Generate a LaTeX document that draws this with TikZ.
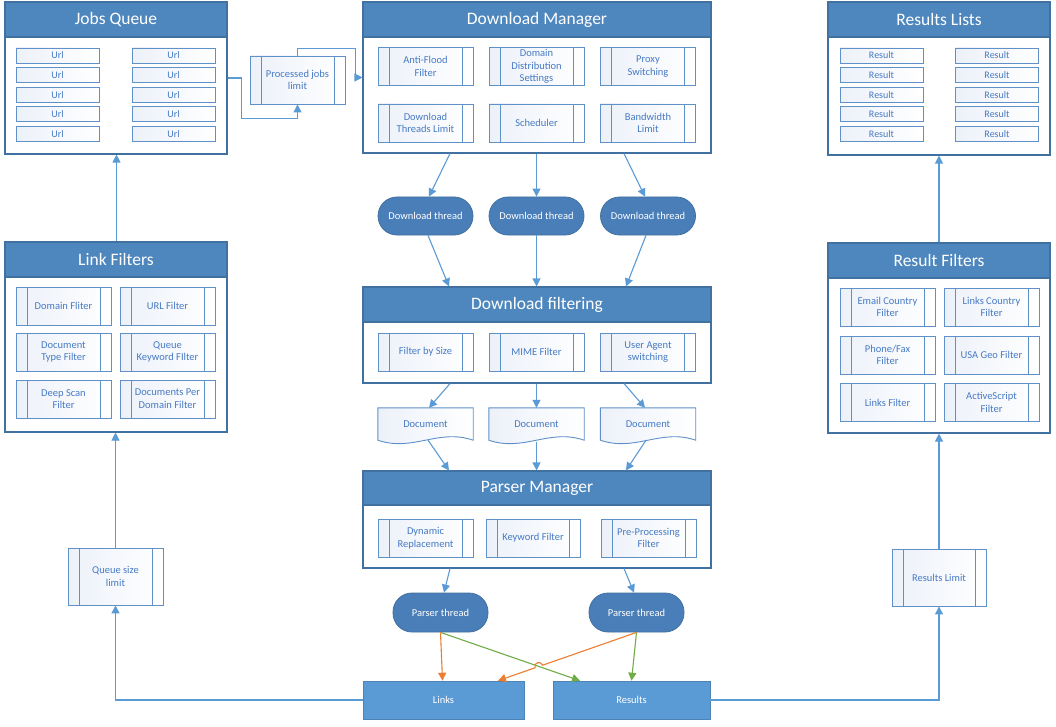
\documentclass[tikz,border=0pt]{standalone}
\usepackage{fontspec}
\setmainfont{Carlito}
\usetikzlibrary{arrows.meta,backgrounds}
\definecolor{hdr}{RGB}{78,135,190}
\definecolor{bord}{RGB}{65,113,160}
\definecolor{connc}{RGB}{91,155,213}
\definecolor{txtb}{RGB}{70,122,196}
\definecolor{ibord}{RGB}{95,145,200}
\definecolor{ifill}{RGB}{236,241,249}
\definecolor{thr}{RGB}{74,126,184}
\definecolor{lnk}{RGB}{91,155,213}
\definecolor{orng}{RGB}{237,125,49}
\definecolor{grn}{RGB}{112,173,71}
\tikzset{
 cont/.style={draw=bord, line width=1.1pt, fill=white, inner sep=0pt},
 hdrbox/.style={draw=bord, line width=1.1pt, fill=hdr, text=white, inner sep=0pt, minimum height=35pt, font=\fontsize{17.5}{20}\selectfont, anchor=north},
 pproc/.style={draw=ibord, line width=0.9pt, left color=ifill, right color=white, inner sep=0pt, text=txtb, minimum width=95pt, minimum height=38pt, align=center, font=\fontsize{10.5}{12.7}\selectfont,
   path picture={\draw[ibord, line width=0.9pt] ([xshift=11pt]path picture bounding box.north west) -- ([xshift=11pt]path picture bounding box.south west);
                 \draw[ibord, line width=0.9pt] ([xshift=-11pt]path picture bounding box.north east) -- ([xshift=-11pt]path picture bounding box.south east);}},
 listitem/.style={draw=ibord, line width=0.9pt, left color=ifill, right color=white, inner sep=0pt, text=txtb, minimum width=83pt, minimum height=15pt, font=\fontsize{10}{12}\selectfont},
 thread/.style={fill=thr, draw=bord, line width=0.8pt, rounded corners=19pt, minimum width=95pt, minimum height=38pt, inner sep=0pt, text=white, font=\fontsize{10.5}{12.7}\selectfont},
 docbox/.style={inner sep=0pt, minimum width=95pt, minimum height=32pt, text=txtb, font=\fontsize{10.5}{12.7}\selectfont},
 docshape/.style={draw=ibord, line width=0.9pt, left color=ifill, right color=white},
 sink/.style={fill=lnk, draw=lnk!85!black, line width=0.6pt, minimum height=38pt, inner sep=0pt, text=white, font=\fontsize{10.5}{12.7}\selectfont},
 conn/.style={draw=connc, line width=1.1pt, -{Triangle[length=8pt,width=8pt]}},
 connor/.style={draw=orng, line width=1.1pt},
 conngr/.style={draw=grn, line width=1.1pt, -{Triangle[length=8pt,width=8pt]}},
}
\newcommand\mydoc[1]{\begin{pgfonlayer}{background}\path[docshape] (#1.north west) -- (#1.north east) -- (#1.south east) .. controls ([xshift=-35pt,yshift=12pt]#1.south east) and ([xshift=35pt,yshift=-12pt]#1.south west) .. (#1.south west) -- cycle;\end{pgfonlayer}}
\begin{document}
\begin{tikzpicture}[x=1pt,y=-1pt]
\useasboundingbox (0,0) rectangle (1056,727);
\begin{pgfonlayer}{background}\fill[white] (0,0) rectangle (1056,727);\end{pgfonlayer}

% ---------- Jobs Queue ----------
\node[cont, minimum width=222pt, minimum height=152pt] (jq) at (116,78) {};
\node[hdrbox, minimum width=222pt] (jqh) at (jq.north) {Jobs Queue};
\foreach \r/\yy in {1/55.5,2/75.1,3/94.7,4/114.3,5/133.9}{
  \node[listitem] (jqa\r) at (57.5,\yy) {Url};
  \node[listitem] (jqb\r) at (173.5,\yy) {Url};
}

% ---------- Processed jobs limit ----------
\node[pproc, minimum height=48pt] (pjl) at (297.5,80) {Processed jobs\\limit};

% ---------- Download Manager ----------
\node[cont, minimum width=348pt, minimum height=151pt] (dm) at (537,77.5) {};
\node[hdrbox, minimum width=348pt] (dmh) at (dm.north) {Download Manager};
\node[pproc] (af) at (425.5,66.5) {Anti-Flood\\Filter};
\node[pproc] (dd) at (536.5,66.5) {Domain\\Distribution\\Settings};
\node[pproc] (ps) at (648,66.5) {Proxy\\Switching};
\node[pproc] (dt) at (425.5,123) {Download\\Threads Limit};
\node[pproc] (sc) at (536.5,123) {Scheduler};
\node[pproc] (bw) at (648,123) {Bandwidth\\Limit};

% ---------- Download threads ----------
\node[thread] (t1) at (425.5,216) {Download thread};
\node[thread] (t2) at (536.5,216) {Download thread};
\node[thread] (t3) at (648,216) {Download thread};

% ---------- Download filtering ----------
\node[cont, minimum width=348pt, minimum height=96pt] (df) at (537,335) {};
\node[hdrbox, minimum width=348pt] (dfh) at (df.north) {Download filtering};
\node[pproc] (fs) at (425.5,352) {Filter by Size};
\node[pproc] (mf) at (536.5,352) {MIME Filter};
\node[pproc] (ua) at (648,352) {User Agent\\switching};

% ---------- Documents ----------
\node[docbox] (d1) at (425.5,424) {Document};
\node[docbox] (d2) at (536.5,424) {Document};
\node[docbox] (d3) at (648,424) {Document};
\mydoc{d1}\mydoc{d2}\mydoc{d3}

% ---------- Parser Manager ----------
\node[cont, minimum width=348pt, minimum height=97pt] (pm) at (537,519.5) {};
\node[hdrbox, minimum width=348pt, minimum height=34pt] (pmh) at (pm.north) {Parser Manager};
\node[pproc] (dr) at (425.5,538) {Dynamic\\Replacement};
\node[pproc, minimum width=94pt] (kf) at (533,538) {Keyword Filter};
\node[pproc] (pp) at (648.5,538) {Pre-Processing\\Filter};

% ---------- Parser threads ----------
\node[thread, minimum height=39pt] (pt1) at (440.5,612.5) {Parser thread};
\node[thread, minimum height=39pt] (pt2) at (636.5,612.5) {Parser thread};

% ---------- Links / Results ----------
\node[sink, minimum width=161pt] (links) at (443.5,700) {Links};
\node[sink, minimum width=157pt] (res) at (631.5,700) {Results};

% ---------- Link Filters ----------
\node[cont, minimum width=222pt, minimum height=190pt] (lf) at (116,337) {};
\node[hdrbox, minimum width=222pt] (lfh) at (lf.north) {Link Filters};
\node[pproc] (lf1) at (63.5,306) {Domain Fliter};
\node[pproc] (lf2) at (167.5,306) {URL Filter};
\node[pproc] (lf3) at (63.5,352) {Document\\Type Filter};
\node[pproc] (lf4) at (167.5,352) {Queue\\Keyword FIlter};
\node[pproc] (lf5) at (63.5,399) {Deep Scan\\Filter};
\node[pproc] (lf6) at (167.5,399) {Documents Per\\Domain Filter};

% ---------- Queue size limit ----------
\node[pproc, minimum height=57pt] (qsl) at (115.5,576.5) {Queue size\\limit};

% ---------- Results Lists ----------
\node[cont, minimum width=222pt, minimum height=153pt] (rls) at (939,78.5) {};
\node[hdrbox, minimum width=222pt] (rlsh) at (rls.north) {Results Lists};
\foreach \r/\yy in {1/55.5,2/75.1,3/94.7,4/114.3,5/133.9}{
  \node[listitem] (rla\r) at (881.5,\yy) {Result};
  \node[listitem] (rlb\r) at (997,\yy) {Result};
}

% ---------- Result Filters ----------
\node[cont, minimum width=222pt, minimum height=190pt] (rf) at (939,338) {};
\node[hdrbox, minimum width=222pt] (rfh) at (rf.north) {Result Filters};
\node[pproc] (rf1) at (887.5,307) {Email Country\\Filter};
\node[pproc] (rf2) at (991.5,307) {Links Country\\Filter};
\node[pproc] (rf3) at (887.5,355) {Phone/Fax\\Filter};
\node[pproc] (rf4) at (991.5,355) {USA Geo Filter};
\node[pproc] (rf5) at (887.5,402.5) {Links Filter};
\node[pproc] (rf6) at (991.5,402.5) {ActiveScript\\Filter};

% ---------- Results Limit ----------
\node[pproc, minimum width=94pt, minimum height=57pt] (rlim) at (939,577.5) {Results Limit};

% ================= connectors =================
% left column
\draw[conn] ([xshift=0.5pt]lf.north) -- ([xshift=0.5pt]jq.south);
\draw[conn] (qsl.north) -- (qsl.north |- lf.south);
\draw[conn] (links.west) -| (qsl.south);
% jobs queue -> processed -> download manager
\draw[conn] (jq.east) -- ([xshift=14pt]jq.east) |- ([yshift=-14pt]pjl.south) -- (pjl.south);
\draw[conn] (pjl.north) -- ++(0,-7) -| ([xshift=-7pt]dm.west) -- (dm.west);
% download manager -> threads
\draw[conn] ([xshift=-87pt]dm.south) -- ([xshift=3.5pt]t1.north);
\draw[conn] (t2.north |- dm.south) -- (t2.north);
\draw[conn] ([xshift=87pt]dm.south) -- ([xshift=-3pt]t3.north);
% threads -> download filtering
\draw[conn] ([xshift=2.5pt]t1.south) -- ([xshift=-88pt]df.north);
\draw[conn] (t2.south) -- (t2.south |- df.north);
\draw[conn] ([xshift=-2pt]t3.south) -- ([xshift=89pt]df.north);
% download filtering -> documents
\draw[conn] ([xshift=-87pt]df.south) -- ([xshift=3.5pt]d1.north);
\draw[conn] (d2.north |- df.south) -- (d2.north);
\draw[conn] ([xshift=87pt]df.south) -- ([xshift=-3pt]d3.north);
% documents -> parser manager
\draw[conn] ([xshift=2.5pt]d1.south) -- ([xshift=-88pt]pm.north);
\draw[conn] ([yshift=-2pt]d2.south) -- (d2.south |- pm.north);
\draw[conn] ([xshift=-2pt]d3.south) -- ([xshift=89pt]pm.north);
% parser manager -> parser threads
\draw[conn] ([xshift=-87pt]pm.south) -- ([xshift=3.5pt]pt1.north);
\draw[conn] ([xshift=87pt]pm.south) -- ([xshift=-2.5pt]pt2.north);
% parser threads -> links / results
\coordinate (hopA) at (542.6,665.2);
\coordinate (hopB) at (535.0,667.8);
\draw[conngr] (pt1.south) -- ([xshift=-51.5pt]res.north);
\draw[conngr] (pt2.south) -- (res.north);
\draw[connor, -{Triangle[length=8pt,width=8pt]}] (pt1.south) -- ([xshift=-1pt]links.north);
\draw[connor, -{Triangle[length=8pt,width=8pt]}] (pt2.south) -- (hopA) .. controls (540.8,660.2) and (533.2,662.8) .. (hopB) -- ([xshift=54.5pt]links.north);
% right column
\draw[conn] (res.east) -| (rlim.south);
\draw[conn] (rlim.north) -- (rlim.north |- rf.south);
\draw[conn] (rf.north) -- (rf.north |- rls.south);
\end{tikzpicture}
\end{document}
